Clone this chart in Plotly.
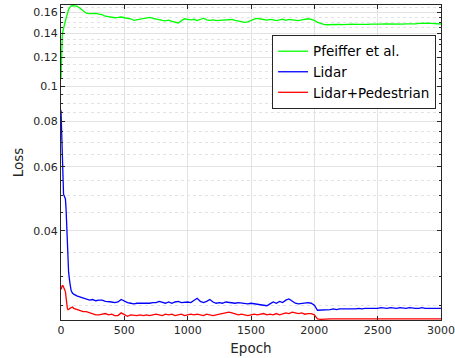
import plotly.graph_objects as go
import math

# ---------------- data ----------------
early_epochs = [0, 5, 10, 15, 20, 25, 30, 35, 40, 45, 50, 55, 60, 70, 80, 90]
late_epochs = list(range(100, 3001, 25))
epochs = early_epochs + late_epochs

pfeiffer = [
    0.105, 0.125, 0.138, 0.142, 0.145, 0.147, 0.150, 0.152, 0.154, 0.156, 0.159, 0.161, 0.163, 0.165, 0.1665, 0.1668,
    # 100 .. 975
    0.1668, 0.1662, 0.1640, 0.1615, 0.1590, 0.1585, 0.1590, 0.1588, 0.1580, 0.1575, 0.1560, 0.1555, 0.1550, 0.1545,
    0.1548, 0.1552, 0.1545, 0.1540, 0.1535, 0.1520, 0.1525, 0.1530, 0.1535, 0.1540, 0.1548, 0.1538, 0.1530, 0.1525,
    0.1520, 0.1515, 0.1522, 0.1510, 0.1500, 0.1495, 0.1515, 0.1535,
    # 1000 .. 1975
    0.1530, 0.1525, 0.1530, 0.1518, 0.1528, 0.1540, 0.1525, 0.1520, 0.1525, 0.1518, 0.1520, 0.1522, 0.1525, 0.1520,
    0.1528, 0.1520, 0.1512, 0.1505, 0.1500, 0.1505, 0.1520, 0.1532, 0.1538, 0.1530, 0.1528, 0.1522, 0.1530, 0.1525,
    0.1518, 0.1525, 0.1532, 0.1520, 0.1528, 0.1525, 0.1520, 0.1518, 0.1525, 0.1530, 0.1535, 0.1530,
    # 2000 .. 3000
    0.1520, 0.1500, 0.1488, 0.1482, 0.1478, 0.1480, 0.1478, 0.1480, 0.1481, 0.1479, 0.1482, 0.1480, 0.1483, 0.1481,
    0.1480, 0.1482, 0.1484, 0.1482, 0.1483, 0.1481, 0.1484, 0.1483, 0.1485, 0.1484, 0.1486, 0.1484, 0.1485, 0.1483,
    0.1484, 0.1486, 0.1485, 0.1484, 0.1487, 0.1490, 0.1492, 0.1491, 0.1492, 0.1490, 0.1487, 0.1485, 0.1485,
]

lidar = [
    0.086, 0.075, 0.062, 0.054, 0.0505, 0.0500, 0.0495, 0.0490, 0.0460, 0.0400, 0.0350, 0.0320, 0.0308, 0.0288, 0.0274, 0.0270,
    # 100 .. 975
    0.0268, 0.0265, 0.0263, 0.0261, 0.0260, 0.0258, 0.0259, 0.0257, 0.0258, 0.0258, 0.0256, 0.0256, 0.0255, 0.0254,
    0.0255, 0.0259, 0.0256, 0.0254, 0.0253, 0.0252, 0.0253, 0.0253, 0.0252, 0.0253, 0.0253, 0.0254, 0.0254, 0.0256,
    0.0254, 0.0253, 0.0255, 0.0253, 0.0255, 0.0256, 0.0254, 0.0255,
    # 1000 .. 1975
    0.0255, 0.0254, 0.0257, 0.0261, 0.0256, 0.0254, 0.0256, 0.0259, 0.0255, 0.0253, 0.0254, 0.0253, 0.0255, 0.0254,
    0.0254, 0.0253, 0.0254, 0.0253, 0.0253, 0.0252, 0.0253, 0.0252, 0.0251, 0.0251, 0.0249, 0.0249, 0.0252, 0.0255,
    0.0253, 0.0256, 0.0254, 0.0258, 0.0260, 0.0256, 0.0253, 0.0252, 0.0253, 0.0254, 0.0254, 0.0253,
    # 2000 .. 3000
    0.0250, 0.0242, 0.0242, 0.0243, 0.0243, 0.0243, 0.0244, 0.0243, 0.0244, 0.0244, 0.0243, 0.0244, 0.0244, 0.0244,
    0.0245, 0.0244, 0.0245, 0.0245, 0.0244, 0.0245, 0.0245, 0.0246, 0.0245, 0.0245, 0.0246, 0.0245, 0.0245, 0.0246,
    0.0245, 0.0245, 0.0246, 0.0245, 0.0245, 0.0245, 0.0246, 0.0245, 0.0245, 0.0245, 0.0246, 0.0245, 0.0245,
]

lidar_ped = [
    0.0276, 0.0280, 0.0283, 0.0283, 0.0281, 0.0278, 0.0275, 0.0272, 0.0262, 0.0250, 0.0245, 0.0243, 0.0243, 0.0245, 0.0246, 0.0247,
    # 100 .. 975
    0.0245, 0.0243, 0.0241, 0.0240, 0.0240, 0.0238, 0.0236, 0.0235, 0.0235, 0.0236, 0.0237, 0.0235, 0.0236, 0.0234,
    0.0234, 0.0238, 0.0235, 0.0233, 0.0235, 0.0234, 0.0234, 0.0235, 0.0234, 0.0235, 0.0234, 0.0235, 0.0236, 0.0235,
    0.0234, 0.0236, 0.0235, 0.0236, 0.0234, 0.0235, 0.0236, 0.0234,
    # 1000 .. 1975
    0.0235, 0.0236, 0.0235, 0.0236, 0.0235, 0.0234, 0.0236, 0.0235, 0.0234, 0.0235, 0.0236, 0.0237, 0.0239, 0.0239,
    0.0238, 0.0236, 0.0235, 0.0236, 0.0235, 0.0234, 0.0235, 0.0236, 0.0235, 0.0236, 0.0237, 0.0235, 0.0236, 0.0235,
    0.0237, 0.0235, 0.0236, 0.0238, 0.0237, 0.0239, 0.0238, 0.0237, 0.0238, 0.0236, 0.0237, 0.0237,
    # 2000 .. 3000
    0.0235, 0.0229, 0.02285, 0.0229, 0.02288, 0.0229, 0.02292, 0.0229, 0.02288, 0.0229, 0.02292, 0.0229, 0.02291, 0.0229,
    0.02292, 0.0229, 0.02291, 0.02293, 0.0229, 0.02292, 0.02291, 0.0229, 0.02293, 0.02292, 0.0229, 0.02291, 0.02293, 0.02292,
    0.0229, 0.02291, 0.02292, 0.0229, 0.02291, 0.02293, 0.02292, 0.0229, 0.02291, 0.02292, 0.0229, 0.02291, 0.0229,
]

series_names = ["Pfeiffer et al.", "Lidar", "Lidar+Pedestrian"]
series_colors = ["#00ff00", "#0000ff", "#ff0000"]

y_tickvals = [0.04, 0.06, 0.08, 0.1, 0.12, 0.14, 0.16]
y_ticktext = ["0.04", "0.06", "0.08", "0.1", "0.12", "0.14", "0.16"]
y_minorvals = [0.025, 0.03, 0.035, 0.045, 0.05, 0.055, 0.065, 0.07, 0.075, 0.085, 0.09, 0.095,
               0.105, 0.11, 0.115, 0.125, 0.13, 0.135, 0.145, 0.15, 0.155, 0.165]
x_tickvals = [0, 500, 1000, 1500, 2000, 2500, 3000]

# ---------------- figure ----------------
fig = go.Figure()
for name, vals, col in zip(series_names, [pfeiffer, lidar, lidar_ped], series_colors):
    fig.add_trace(go.Scatter(x=epochs, y=vals, mode="lines", name=name,
                             line=dict(color=col, width=1.3)))

axis_col = "#262626"
grid_col = "#e3e3e3"

fig.update_layout(
    width=455, height=358,
    margin=dict(l=61, r=14, t=5, b=38, autoexpand=False),
    paper_bgcolor="white", plot_bgcolor="white",
    font=dict(family="DejaVu Sans", size=11, color=axis_col),
    showlegend=True,
    legend=dict(x=0.987, y=0.905, xanchor="right", yanchor="top",
                bgcolor="white", bordercolor=axis_col, borderwidth=1,
                font=dict(size=13.5, color="#000000"),
                tracegroupgap=0, itemwidth=30),
)

fig.update_xaxes(
    range=[0, 3000], tickmode="array", tickvals=x_tickvals,
    showline=True, linecolor=axis_col, linewidth=1, mirror="ticks",
    ticks="inside", ticklen=4, tickcolor=axis_col, automargin=False,
    showgrid=True, gridcolor=grid_col, gridwidth=1, zeroline=False,
    title=dict(text="Epoch", font=dict(size=13.5, color=axis_col), standoff=7),
)

fig.update_yaxes(
    type="log",
    range=[math.log10(0.02275), math.log10(0.1675)],
    tickmode="array", tickvals=y_tickvals, ticktext=y_ticktext,
    showline=True, linecolor=axis_col, linewidth=1, mirror="ticks",
    ticks="inside", ticklen=4, tickcolor=axis_col, automargin=False,
    showgrid=True, gridcolor=grid_col, gridwidth=1, zeroline=False,
    minor=dict(tickmode="array", tickvals=y_minorvals, ticks="inside", ticklen=2,
               tickcolor=axis_col, showgrid=True, gridcolor=grid_col, griddash="dot", gridwidth=1),
    title=dict(text="Loss", font=dict(size=13.5, color=axis_col), standoff=6),
)

fig.write_html("out.html", config={"displayModeBar": False},
               post_script="document.body.style.margin='0';document.body.style.padding='0';")
